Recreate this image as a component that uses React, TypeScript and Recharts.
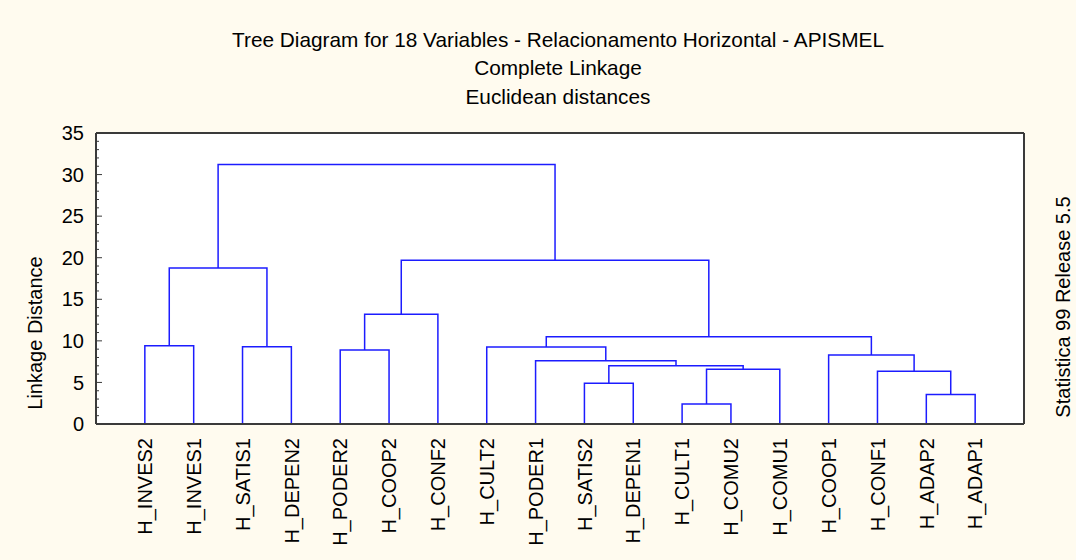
import React from "react";
import {
  LineChart,
  Line,
  XAxis,
  YAxis,
  CartesianGrid,
} from "recharts";

// leaf order along the x axis
const leafNames = [
  "H_INVES2", "H_INVES1", "H_SATIS1", "H_DEPEN2", "H_PODER2", "H_COOP2",
  "H_CONF2", "H_CULT2", "H_PODER1", "H_SATIS2", "H_DEPEN1", "H_CULT1",
  "H_COMU2", "H_COMU1", "H_COOP1", "H_CONF1", "H_ADAP2", "H_ADAP1",
];

// joins: strings are leaves, numbers point to an earlier join
const joinLeft: (string | number)[] = [
  "H_CULT1", "H_ADAP2", "H_SATIS2", "H_CONF1", 0, 2, "H_PODER1", "H_COOP1",
  "H_PODER2", "H_CULT2", "H_SATIS1", "H_INVES2", 9, 8, 11, 13, 14,
];
const joinRight: (string | number)[] = [
  "H_COMU2", "H_ADAP1", "H_DEPEN1", 1, "H_COMU1", 4, 5, 3,
  "H_COOP2", 6, "H_DEPEN2", "H_INVES1", 7, "H_CONF2", 10, 12, 15,
];
const joinHeight = [
  2.4, 3.55, 4.9, 6.35, 6.6, 7.0, 7.6, 8.3, 8.9, 9.25, 9.3, 9.4, 10.5, 13.2,
  18.75, 19.7, 31.2,
];

const yTicks = Array.from({ length: 36 }, (_, i) => i);
const majorTicks = [0, 5, 10, 15, 20, 25, 30, 35];
const leafTicks = leafNames.map((_, i) => i + 1);

// build the U-shaped links of the tree
const joinX: number[] = [];
const links = joinHeight.map((h, i) => {
  const pos = (ref: string | number) =>
    typeof ref === "string"
      ? { x: leafNames.indexOf(ref) + 1, y: 0 }
      : { x: joinX[ref], y: joinHeight[ref] };
  const a = pos(joinLeft[i]);
  const b = pos(joinRight[i]);
  joinX[i] = (a.x + b.x) / 2;
  return [
    { x: a.x, y: a.y },
    { x: a.x, y: h },
    { x: b.x, y: h },
    { x: b.x, y: b.y },
  ];
});

const FONT = "'Liberation Sans', Arial, sans-serif";
const FRAME = "#3a3a3a";

const LeftTick = (props: any) => {
  const { x, y, payload } = props;
  const v = payload.value;
  const major = v % 5 === 0;
  const ax = x + 12;
  return (
    <g>
      <line x1={ax} x2={ax + (major ? 6 : 3)} y1={y} y2={y} stroke={FRAME} />
      {major && (
        <text x={x} y={y} dy="0.36em" textAnchor="end" fontSize={20} fontFamily={FONT} fill="#000">
          {v}
        </text>
      )}
    </g>
  );
};

const RightTick = (props: any) => {
  const { x, y } = props;
  return <line x1={x} x2={x - 5} y1={y} y2={y} stroke={FRAME} />;
};

const TopTick = (props: any) => {
  const { x, y } = props;
  return <line x1={x} x2={x} y1={y} y2={y + 5} stroke={FRAME} />;
};

const LeafTick = (props: any) => {
  const { x, y, payload } = props;
  return (
    <text
      x={x}
      y={y}
      dy="0.36em"
      transform={`rotate(-90 ${x} ${y})`}
      textAnchor="end"
      fontSize={20}
      fontFamily={FONT}
      fill="#000"
    >
      {leafNames[payload.value - 1]}
    </text>
  );
};

export default function App() {
  return (
    <div
      style={{
        position: "absolute",
        left: 0,
        top: 0,
        width: 1076,
        height: 560,
        background: "#fffbef",
      }}
    >
      <LineChart
        width={1076}
        height={560}
        margin={{ top: 132, right: 51, bottom: 6, left: 36 }}
      >
        <CartesianGrid
          xAxisId="b"
          yAxisId="r"
          vertical={false}
          fill="#ffffff"
          stroke="#b4b4b4"
          strokeDasharray="2 2"
        />
        <XAxis
          xAxisId="b"
          dataKey="x"
          type="number"
          domain={[0, 19]}
          ticks={leafTicks}
          interval={0}
          height={130}
          tickSize={0}
          tickMargin={14}
          tick={<LeafTick />}
          axisLine={{ stroke: FRAME, strokeWidth: 2 }}
          tickLine={false}
        />
        <XAxis
          xAxisId="t"
          orientation="top"
          dataKey="x"
          type="number"
          domain={[0, 19]}
          ticks={leafTicks}
          interval={0}
          height={1}
          tickSize={0}
          tickMargin={0}
          tick={<TopTick />}
          axisLine={{ stroke: FRAME, strokeWidth: 2 }}
          tickLine={false}
        />
        <YAxis
          yAxisId="l"
          type="number"
          domain={[0, 35]}
          ticks={yTicks}
          interval={0}
          width={60}
          tickSize={0}
          tickMargin={12}
          tick={<LeftTick />}
          axisLine={{ stroke: FRAME, strokeWidth: 2 }}
          tickLine={false}
        />
        <YAxis
          yAxisId="r"
          orientation="right"
          type="number"
          domain={[0, 35]}
          ticks={majorTicks}
          interval={0}
          width={1}
          tickSize={0}
          tickMargin={0}
          tick={<RightTick />}
          axisLine={{ stroke: FRAME, strokeWidth: 2 }}
          tickLine={false}
        />
        {links.map((d, i) => (
          <Line
            key={i}
            xAxisId="b"
            yAxisId="l"
            data={d}
            dataKey="y"
            type="linear"
            stroke="#1c1cff"
            strokeWidth={1.5}
            dot={false}
            activeDot={false}
            isAnimationActive={false}
          />
        ))}
      </LineChart>
      <svg
        width={1076}
        height={560}
        style={{ position: "absolute", left: 0, top: 0, pointerEvents: "none" }}
        fontFamily={FONT}
        fontSize={20}
      >
        <text x={558} y={47} textAnchor="middle" fontSize={20.8}>
          Tree Diagram for 18 Variables - Relacionamento Horizontal - APISMEL
        </text>
        <text x={558} y={75} textAnchor="middle" fontSize={20.8}>Complete Linkage</text>
        <text x={558} y={104} textAnchor="middle" fontSize={20.8}>Euclidean distances</text>
        <text x={42} y={333} textAnchor="middle" transform="rotate(-90 42 333)">
          Linkage Distance
        </text>
        <text x={1070} y={307} textAnchor="middle" transform="rotate(-90 1070 307)">
          Statistica 99 Release 5.5
        </text>
      </svg>
    </div>
  );
}
